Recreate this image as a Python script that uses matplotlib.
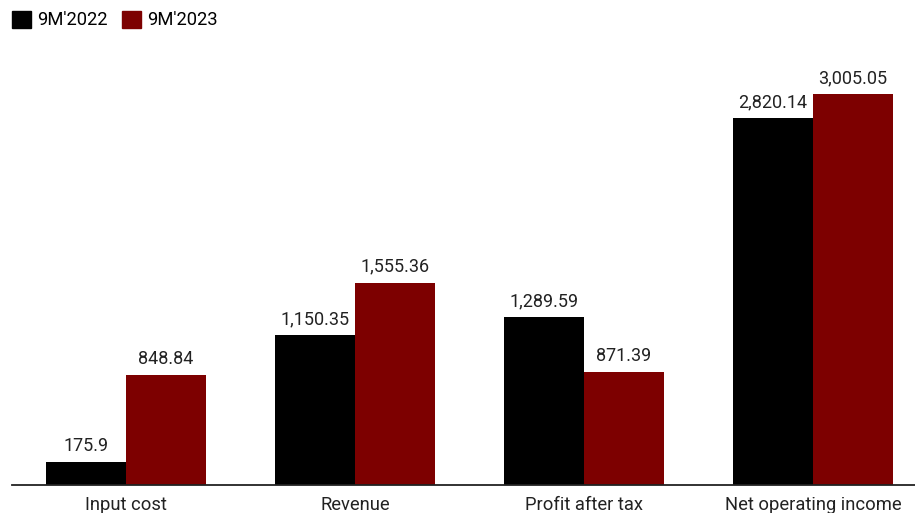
import numpy as np
import matplotlib
matplotlib.use("Agg")
import matplotlib.pyplot as plt
from matplotlib.patches import Patch

plt.rcParams['font.family'] = ['Roboto', 'DejaVu Sans']

categories = ["Input cost", "Revenue", "Profit after tax", "Net operating income"]
v2022 = [175.9, 1150.35, 1289.59, 2820.14]
v2023 = [848.84, 1555.36, 871.39, 3005.05]
series = ["9M'2022", "9M'2023"]
colors = ["#000000", "#7d0000"]

fig = plt.figure(figsize=(9.15, 5.13), dpi=100)
ax = fig.add_axes([12 / 915, 28 / 513, 1 - 12 / 915, 425 / 513])

x = np.arange(len(categories))
w = 80 / 229
b1 = ax.bar(x - w / 2, v2022, w, color=colors[0])
b2 = ax.bar(x + w / 2, v2023, w, color=colors[1])

for bars, vals in ((b1, v2022), (b2, v2023)):
    for r, v in zip(bars, vals):
        s = f"{v:,.2f}".rstrip("0").rstrip(".") if v == 175.9 else f"{v:,.2f}"
        ax.annotate(s, (r.get_x() + r.get_width() / 2, v), xytext=(0, 5),
                    textcoords="offset points", ha="center", va="bottom",
                    fontsize=13, color="#222222")

ax.set_xlim(-0.498, 3.445)
ax.set_ylim(0, 3267)
ax.set_xticks(x)
ax.set_xticklabels(categories, fontsize=13.2, color="#222222")
ax.tick_params(axis="x", length=0, pad=8)
ax.set_yticks([])
for s in ("top", "right", "left"):
    ax.spines[s].set_visible(False)
ax.spines["bottom"].set_color("#222222")
ax.spines["bottom"].set_linewidth(1.3)

handles = [Patch(color=c, label=l) for c, l in zip(colors, series)]
fig.legend(handles=handles, loc="upper left", bbox_to_anchor=(0.003, 0.997), ncol=2,
           frameon=False, fontsize=13.2, handlelength=1.05, handleheight=1.05,
           handletextpad=0.35, columnspacing=0.75, borderaxespad=0.2,
           borderpad=0.3)

fig.savefig("out.png", dpi=100)
